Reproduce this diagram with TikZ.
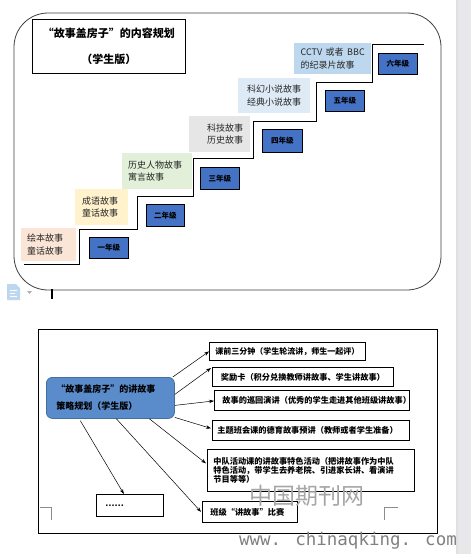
\documentclass[tikz,border=0pt]{standalone}
\usepackage{fontspec}
\setmainfont{Noto Sans CJK SC}
\newfontfamily\wmmono{DejaVu Sans Mono}
\usetikzlibrary{arrows.meta}
\definecolor{peach}{HTML}{FBE5D6}
\definecolor{lyellow}{HTML}{FFF2CC}
\definecolor{lgreen}{HTML}{E2F0D9}
\definecolor{lgray}{HTML}{E7E6E6}
\definecolor{lblueA}{HTML}{DEEBF7}
\definecolor{lblueB}{HTML}{BDD7EE}
\definecolor{gradeblue}{HTML}{4472C4}
\definecolor{centblue}{HTML}{5A8BCB}
\definecolor{centedge}{HTML}{41719C}
\definecolor{barcol}{HTML}{E8E8EA}
\tikzset{
  storybox/.style={inner sep=0pt, anchor=north west, font=\fontsize{9}{12.5}\selectfont, text=black!85},
  gradebox/.style={draw=black, fill=gradeblue, line width=0.9pt, inner sep=0pt, anchor=north west,
    font=\bfseries\fontsize{7.5}{9}\selectfont},
  planbox/.style={draw=black, line width=0.8pt, inner sep=0pt, anchor=north west,
    font=\bfseries\fontsize{8.2}{9.3}\selectfont},
  arr/.style={-{Stealth[length=5pt,width=3.5pt]}, line width=0.5pt},
  stairline/.style={line width=1pt, draw=black},
  pagemark/.style={draw=black!45, line width=0.5pt}
}
\begin{document}
\begin{tikzpicture}[x=1pt,y=-1pt]
\useasboundingbox (0,0) rectangle (471,554);
\fill[white] (0,0) rectangle (471,554);
% right gray bar
\fill[barcol] (456,0) rectangle (471,554);
\fill[black!12] (456,0) rectangle (457.5,554);

% ---------- top section ----------
\draw[line width=0.8pt, draw=black!75, rounded corners=34pt] (14,13) rectangle (441,290);

\node[draw=black, line width=0.8pt, minimum width=153pt, minimum height=54pt, inner sep=0pt,
  anchor=north west, align=center, font=\bfseries\fontsize{11}{26}\selectfont] (title) at (32,19)
  {“故事盖房子”的内容规划\\（学生版）};

% staircase
\draw[stairline] (24,264) -- (79,264) -- (79,229) -- (137,229) -- (137,196) -- (193,196)
  -- (193,158) -- (253,158) -- (253,121) -- (316,121) -- (316,82) -- (372,82) -- (372,44) -- (424,44);

% story boxes
\node[storybox, fill=peach, minimum width=55pt, minimum height=33pt, align=left, inner xsep=6pt, text width=43pt] (s1) at (21,228) {绘本故事\\童话故事};
\node[storybox, fill=lyellow, minimum width=53pt, minimum height=36pt, align=left, inner xsep=7pt, text width=39pt] (s2) at (75,189) {成语故事\\童话故事};
\node[storybox, fill=lgreen, minimum width=70pt, minimum height=36pt, align=left, inner xsep=6pt, text width=58pt] (s3) at (122,153) {历史人物故事\\寓言故事};
\node[storybox, fill=lgray, minimum width=61pt, minimum height=36pt, align=right, inner xsep=7pt, text width=47pt] (s4) at (189,116) {科技故事\\历史故事};
\node[storybox, fill=lblueA, minimum width=72pt, minimum height=35pt, align=center] (s5) at (238,78) {科幻小说故事\\经典小说故事};
\node[storybox, fill=lblueB, minimum width=77pt, minimum height=31pt, align=left] (s6) at (294,43) {CCTV\, 或者\, BBC\\的纪录片故事};

% grade boxes
\node[gradebox, minimum width=39pt, minimum height=21pt] (g1) at (89,237) {一年级};
\node[gradebox, minimum width=38pt, minimum height=22pt] (g2) at (146,204) {二年级};
\node[gradebox, minimum width=39pt, minimum height=22pt] (g3) at (200,167) {三年级};
\node[gradebox, minimum width=40pt, minimum height=23pt] (g4) at (262,129) {四年级};
\node[gradebox, minimum width=39pt, minimum height=21pt] (g5) at (325,90) {五年级};
\node[gradebox, minimum width=39pt, minimum height=21pt] (g6) at (378,53) {六年级};

% editor artifacts
\fill[lblueB] (7,284) -- (16,284) -- (20,288) -- (20,300) -- (7,300) -- cycle;
\draw[white, line width=0.8pt] (9.5,290) -- (17,290) (9.5,293) -- (15,293) (9.5,296) -- (17,296);
\fill[black!30] (27,291) -- (32,291) -- (29.5,294) -- cycle;
\draw[line width=1.3pt] (52,289) -- (52,299);

% ---------- bottom section ----------
\draw[line width=0.8pt] (38,329) rectangle (437,533);

\node[draw=centedge, fill=centblue, line width=0.8pt, rounded corners=6pt, minimum width=128pt, minimum height=41pt,
  anchor=north west, inner xsep=10pt, text width=108pt, align=left,
  font=\bfseries\fontsize{9}{17}\selectfont] (c) at (46,377)
  {“故事盖房子”的讲故事\\策略规划（学生版）};

\node[planbox, minimum width=156pt, minimum height=18pt, font=\bfseries\fontsize{8}{9.3}\selectfont] (b1) at (209,342) {课前三分钟（学生轮流讲，师生一起评）};
\node[planbox, minimum width=181pt, minimum height=19pt] (b2) at (212,367) {奖励卡（积分兑换教师讲故事、学生讲故事）};
\node[planbox, minimum width=195pt, minimum height=20pt, text width=179pt, inner xsep=8pt, align=left] (b3) at (214,390) {故事的巡回演讲（优秀的学生走进其他班级讲故事）};
\node[planbox, minimum width=197pt, minimum height=20pt, text width=187pt, inner xsep=5pt, align=left] (b4) at (212,420) {主题班会课的德育故事预讲（教师或者学生准备）};
\node[planbox, minimum width=207pt, minimum height=42pt, text width=195pt, inner xsep=6pt, align=left] (b5) at (207,449)
  {中队活动课的讲故事特色活动（把讲故事作为中队\\特色活动，带学生去养老院、引进家长讲、看演讲\\节目等等）};
\node[planbox, minimum width=95pt, minimum height=21pt, text width=79pt, inner xsep=8pt, align=left] (b6) at (202,501) {班级“讲故事”比赛};
\node[planbox, minimum width=67pt, minimum height=22pt, text width=49pt, inner xsep=9pt, align=left] (b7) at (96,494) {……};

\draw[arr] ([xshift=-2pt]c.north east) -- (b1.west);
\draw[arr] ([yshift=3.5pt]c.east) -- ([xshift=-1pt,yshift=-1pt]b2.north west);
\draw[arr] ([yshift=-7.5pt]c.east) -- ([yshift=-0.5pt]b3.west);
\draw[arr] ([yshift=-19.5pt]c.east) -- ([xshift=-1pt,yshift=2pt]b4.west);
\draw[arr] ([xshift=39pt]c.south) -- ([xshift=-1pt,yshift=7pt]b5.west);
\draw[arr] ([xshift=6pt]c.south) -- ([xshift=-1pt]b6.west);
\draw[arr] ([xshift=-30pt,yshift=-2pt]c.south) -- ([xshift=-6pt]b7.north);

% page margin marks
\draw[pagemark] (40,507) -- (51,507) -- (51,520);
\draw[pagemark] (398,507) -- (384,507) -- (384,520);

% watermark
\node[text=black!35, font=\fontsize{23}{24}\selectfont, inner sep=0pt] (wm1) at (307,496) {中国期刊网};
\node[text=black!50, font=\wmmono\fontsize{17.5}{18}\selectfont, inner sep=0pt] (wm2) at (348,541) {www. chinaqking. com};
\end{tikzpicture}
\end{document}
